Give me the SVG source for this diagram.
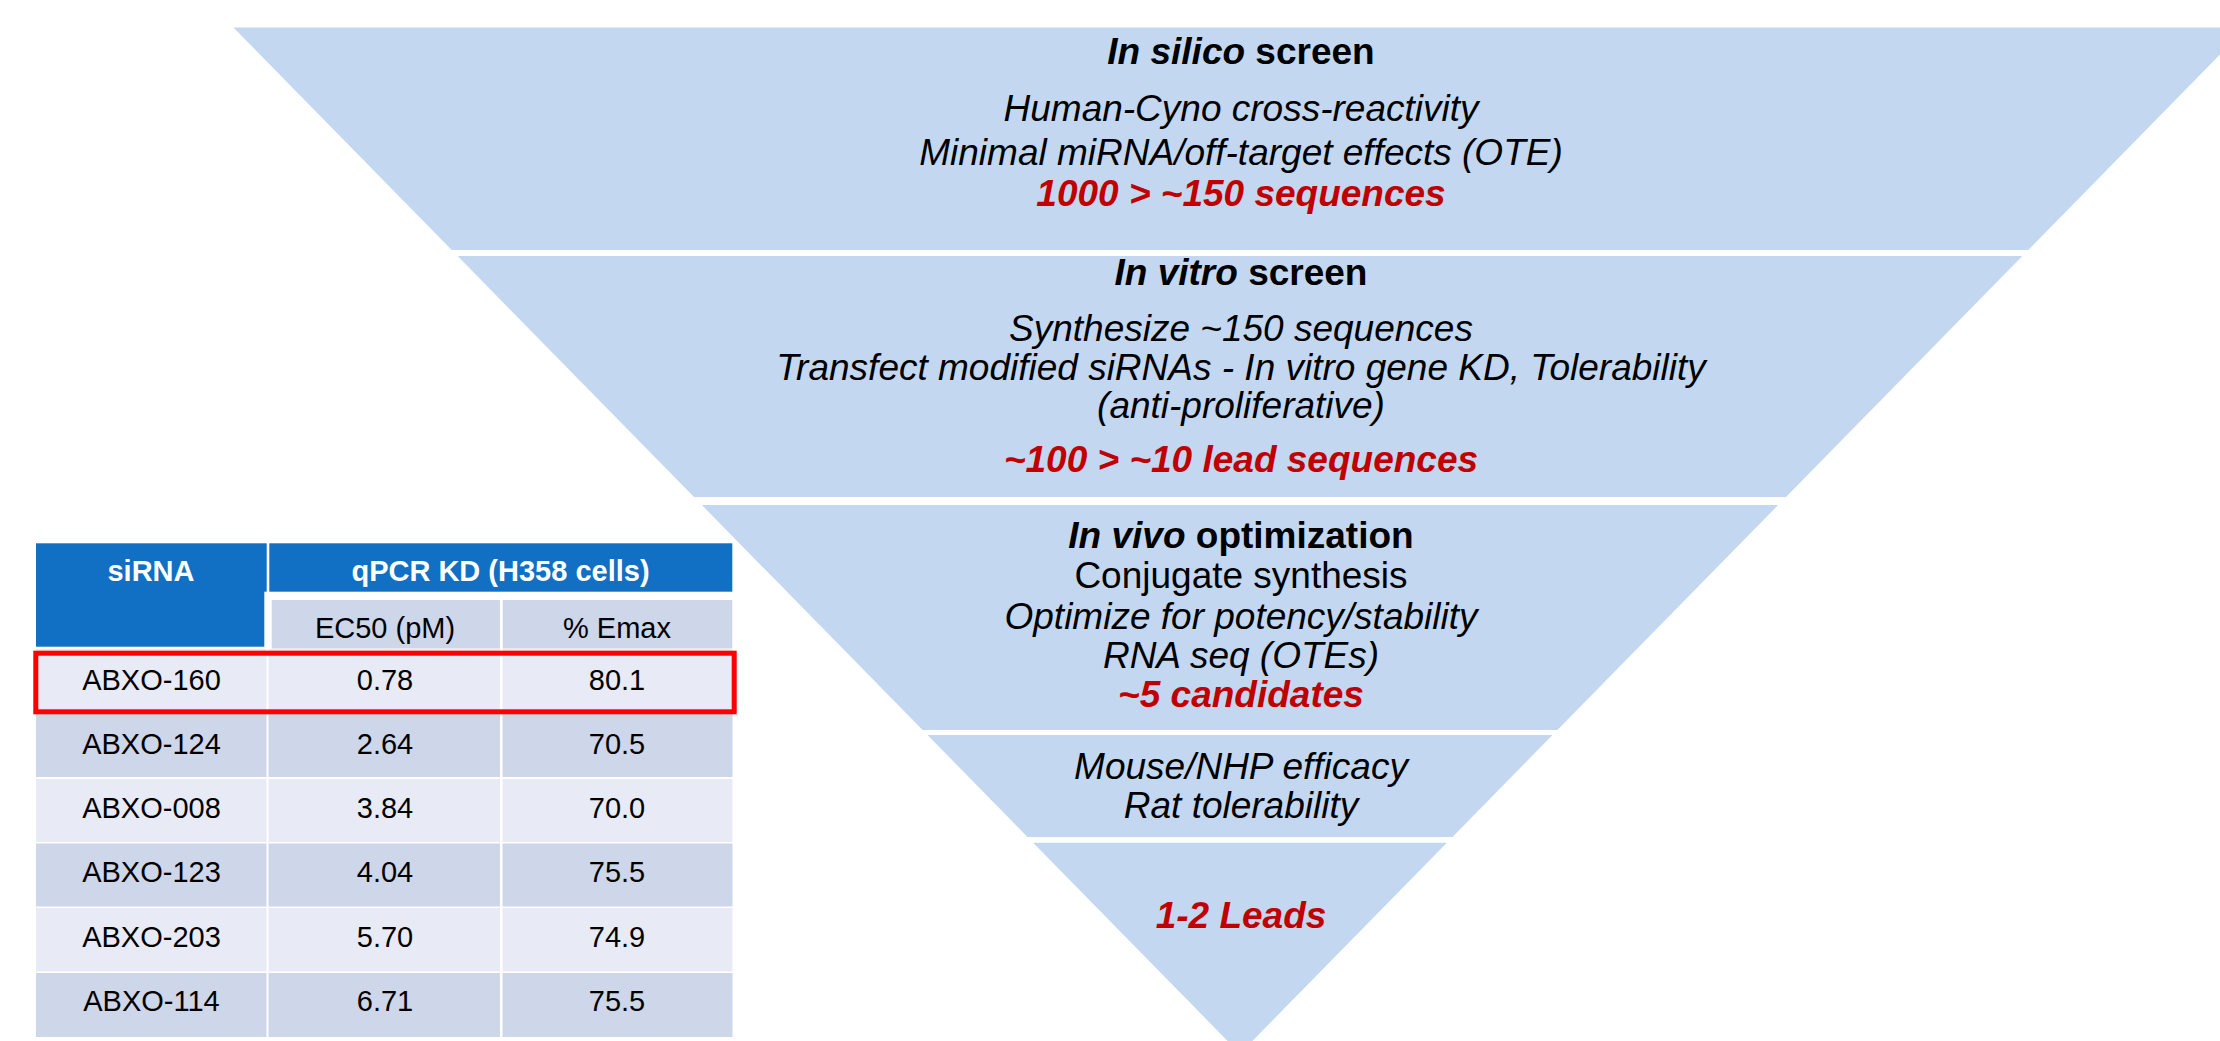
<svg xmlns="http://www.w3.org/2000/svg" width="2220" height="1041" viewBox="0 0 2220 1041">
<style>
.band{fill:#C3D8F0}
.t{font-family:"Liberation Sans",Arial,sans-serif;font-size:37px;text-anchor:middle;fill:#000}
.i{font-style:italic}
.b{font-weight:bold}
.red{fill:#C00000;font-weight:bold;font-style:italic}
.hd{fill:#1170C4}
.dk{fill:#CED6EA}
.lt{fill:#E8EBF5}
.tt{font-family:"Liberation Sans",Arial,sans-serif;font-size:29px;text-anchor:middle;fill:#000}
.th{font-family:"Liberation Sans",Arial,sans-serif;font-size:29px;text-anchor:middle;fill:#fff;font-weight:bold}
</style>
<rect width="2220" height="1041" fill="#fff"/>
<g id="funnel">
<g id="band1">
<polygon class="band" points="233.4,27.5 2246.6,27.5 2028.3,250 451.7,250"/>
<text class="t b" x="1241" y="63.5"><tspan font-style="italic">In silico</tspan> screen</text>
<text class="t i" x="1241" y="121">Human-Cyno cross-reactivity</text>
<text class="t i" x="1241" y="164.5">Minimal miRNA/off-target effects (OTE)</text>
<text class="t red" x="1241" y="206">1000 &gt; ~150 sequences</text>
</g>
<g id="band2">
<polygon class="band" points="457.6,256 2022.4,256 1786,497 694,497"/>
<text class="t b" x="1241" y="285"><tspan font-style="italic">In vitro</tspan> screen</text>
<text class="t i" x="1241" y="341">Synthesize ~150 sequences</text>
<text class="t i" x="1241" y="380">Transfect modified siRNAs - In vitro gene KD, Tolerability</text>
<text class="t i" x="1241" y="418">(anti-proliferative)</text>
<text class="t red" x="1241" y="472">~100 &gt; ~10 lead sequences</text>
</g>
<g id="band3">
<polygon class="band" points="701.8,505 1778.2,505 1557.4,730 922.6,730"/>
<text class="t b" x="1241" y="548"><tspan font-style="italic">In vivo</tspan> optimization</text>
<text class="t" x="1241" y="588">Conjugate synthesis</text>
<text class="t i" x="1241" y="629">Optimize for potency/stability</text>
<text class="t i" x="1241" y="667.5">RNA seq (OTEs)</text>
<text class="t red" x="1241" y="707">~5 candidates</text>
</g>
<g id="band4">
<polygon class="band" points="927.5,735 1552.5,735 1452.5,837 1027.5,837"/>
<text class="t i" x="1241" y="779">Mouse/NHP efficacy</text>
<text class="t i" x="1241" y="817.5">Rat tolerability</text>
</g>
<g id="band5">
<polygon class="band" points="1033.1,842.7 1446.9,842.7 1240,1053.6"/>
<text class="t red" x="1241" y="927.5">1-2 Leads</text>
</g>
</g>
<g id="table">
<rect class="hd" x="36" y="543.3" width="230.7" height="48.4"/>
<rect class="hd" x="36" y="591" width="228.3" height="55.7"/>
<rect class="hd" x="269.3" y="543.3" width="463" height="48.4"/>
<text class="th" x="151" y="580.7">siRNA</text>
<text class="th" x="500.5" y="580.7">qPCR KD (H358 cells)</text>
<rect class="dk" x="271.7" y="600" width="228.3" height="48.5"/>
<rect class="dk" x="502.7" y="600" width="229.6" height="48.5"/>
<text class="tt" x="385" y="638.3">EC50 (pM)</text>
<text class="tt" x="617" y="638.3">% Emax</text>
<g id="rows">
<rect class="lt" x="36" y="649" width="230.5" height="63.5"/>
<rect class="lt" x="268.5" y="649" width="231.5" height="63.5"/>
<rect class="lt" x="502.5" y="649" width="230" height="63.5"/>
<rect class="dk" x="36" y="714" width="230.5" height="63"/>
<rect class="dk" x="268.5" y="714" width="231.5" height="63"/>
<rect class="dk" x="502.5" y="714" width="230" height="63"/>
<rect class="lt" x="36" y="779" width="230.5" height="63"/>
<rect class="lt" x="268.5" y="779" width="231.5" height="63"/>
<rect class="lt" x="502.5" y="779" width="230" height="63"/>
<rect class="dk" x="36" y="843.5" width="230.5" height="63"/>
<rect class="dk" x="268.5" y="843.5" width="231.5" height="63"/>
<rect class="dk" x="502.5" y="843.5" width="230" height="63"/>
<rect class="lt" x="36" y="908" width="230.5" height="63.5"/>
<rect class="lt" x="268.5" y="908" width="231.5" height="63.5"/>
<rect class="lt" x="502.5" y="908" width="230" height="63.5"/>
<rect class="dk" x="36" y="973" width="230.5" height="64"/>
<rect class="dk" x="268.5" y="973" width="231.5" height="64"/>
<rect class="dk" x="502.5" y="973" width="230" height="64"/>
</g>
<g id="cells">
<text class="tt" x="151.5" y="689.5">ABXO-160</text>
<text class="tt" x="385" y="689.5">0.78</text>
<text class="tt" x="617" y="689.5">80.1</text>
<text class="tt" x="151.5" y="753.7">ABXO-124</text>
<text class="tt" x="385" y="753.7">2.64</text>
<text class="tt" x="617" y="753.7">70.5</text>
<text class="tt" x="151.5" y="818">ABXO-008</text>
<text class="tt" x="385" y="818">3.84</text>
<text class="tt" x="617" y="818">70.0</text>
<text class="tt" x="151.5" y="882">ABXO-123</text>
<text class="tt" x="385" y="882">4.04</text>
<text class="tt" x="617" y="882">75.5</text>
<text class="tt" x="151.5" y="946.5">ABXO-203</text>
<text class="tt" x="385" y="946.5">5.70</text>
<text class="tt" x="617" y="946.5">74.9</text>
<text class="tt" x="151.5" y="1010.5">ABXO-114</text>
<text class="tt" x="385" y="1010.5">6.71</text>
<text class="tt" x="617" y="1010.5">75.5</text>
</g>
<rect id="highlight" x="35.8" y="653.2" width="698.4" height="58.6" fill="none" stroke="#FF0000" stroke-width="5"/>
</g>
</svg>
